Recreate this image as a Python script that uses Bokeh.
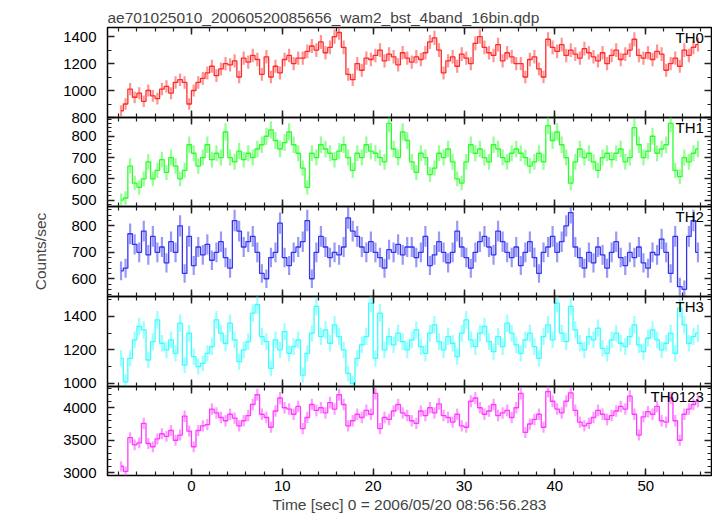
import numpy as np
from bokeh.plotting import figure
from bokeh.layouts import column
from bokeh.models import Range1d, SingleIntervalTicker, LinearAxis, Label
from bokeh.embed import file_html
from bokeh.resources import INLINE

TITLE = "ae701025010_20060520085656_wam2_bst_4band_16bin.qdp"
XLABEL = "Time [sec] 0 = 2006/05/20 08:56:56.283"
YLABEL = "Counts/sec"
BIN = 0.5          # seconds per bin
T_START = -7.75    # centre of first bin

th0 = [850, 900, 1010, 950, 980, 920, 1000, 960,
       940, 1010, 1030, 980, 1060, 1080, 1060, 900,
       1000, 1060, 1090, 1130, 1180, 1110, 1160, 1200,
       1190, 1220, 1100, 1240, 1210, 1260, 1230, 1120,
       1250, 1100, 1180, 1130, 1230, 1260, 1200, 1240,
       1240, 1290, 1330, 1300, 1360, 1280, 1320, 1400,
       1430, 1320, 1120, 1080, 1200, 1150, 1240, 1230,
       1260, 1300, 1220, 1270, 1250, 1190, 1280, 1240,
       1210, 1250, 1230, 1280, 1360, 1390, 1300, 1130,
       1220, 1250, 1180, 1270, 1240, 1200, 1350, 1400,
       1320, 1280, 1260, 1340, 1220, 1280, 1250, 1200,
       1200, 1100, 1230, 1250, 1160, 1100, 1380, 1320,
       1290, 1340, 1260, 1300, 1270, 1240, 1310, 1280,
       1250, 1220, 1280, 1200, 1260, 1300, 1230, 1270,
       1300, 1380, 1260, 1240, 1280, 1230, 1290, 1270,
       1150, 1200, 1240, 1180, 1300, 1260, 1320, 1340]

th1 = [500, 510, 660, 580, 560, 600, 680, 600,
       640, 690, 630, 700, 660, 600, 640, 760,
       720, 660, 700, 760, 690, 720, 700, 820,
       700, 680, 730, 690, 720, 700, 740, 760,
       800, 830, 780, 740, 770, 820, 760, 720,
       650, 560, 720, 700, 760, 740, 720, 690,
       730, 760, 700, 640, 720, 700, 760, 730,
       720, 700, 680, 860, 740, 700, 820, 780,
       680, 630, 720, 700, 620, 650, 720, 700,
       740, 680, 600, 580, 680, 760, 720, 740,
       700, 680, 760, 740, 700, 680, 720, 740,
       720, 700, 660, 680, 720, 680, 850, 780,
       820, 760, 700, 580, 680, 740, 700, 720,
       680, 640, 700, 720, 690, 720, 740, 680,
       700, 840, 760, 700, 730, 800, 720, 740,
       760, 860, 640, 610, 700, 680, 720, 740]

th2 = [630, 640, 770, 730, 700, 780, 690, 760,
       700, 720, 660, 740, 700, 800, 620, 760,
       650, 720, 690, 730, 670, 700, 740, 680,
       640, 820, 780, 720, 740, 760, 700, 620,
       600, 680, 700, 810, 680, 650, 700, 720,
       740, 820, 600, 700, 760, 720, 680, 700,
       690, 720, 830, 780, 760, 720, 700, 740,
       700, 680, 640, 710, 700, 730, 690, 720,
       720, 680, 700, 760, 650, 690, 740, 700,
       660, 700, 780, 720, 680, 640, 700, 740,
       760, 720, 690, 780, 740, 700, 680, 720,
       650, 700, 740, 680, 620, 700, 720, 760,
       700, 740, 800, 850, 720, 680, 640, 700,
       660, 720, 690, 640, 700, 740, 680, 650,
       700, 680, 720, 660, 640, 700, 690, 750,
       700, 620, 760, 570, 560, 760, 820, 700]

th3 = [1150, 1010, 1150, 1260, 1340, 1320, 1140, 1250,
       1380, 1240, 1200, 1260, 1180, 1360, 1110, 1300,
       1160, 1100, 1120, 1180, 1220, 1380, 1300, 1240,
       1360, 1260, 1130, 1200, 1250, 1420, 1470, 1280,
       1250, 1090, 1260, 1200, 1310, 1180, 1220, 1260,
       1050, 1180, 1300, 1460, 1280, 1320, 1240, 1350,
       1280, 1200, 1060, 1000, 1150, 1230, 1280, 1480,
       1150, 1420, 1200, 1280, 1230, 1300, 1250, 1200,
       1260, 1320, 1220, 1180, 1300, 1350, 1250, 1200,
       1280, 1240, 1160, 1300, 1380, 1260, 1220, 1300,
       1340, 1250, 1190, 1280, 1220, 1360, 1300, 1230,
       1180, 1260, 1300, 1220, 1150, 1280, 1350, 1260,
       1480, 1300, 1250, 1460, 1320, 1240, 1200, 1280,
       1260, 1330, 1210, 1180, 1260, 1300, 1240, 1220,
       1280, 1350, 1230, 1190, 1270, 1320, 1260, 1200,
       1240, 1300, 1180, 1450, 1350, 1240, 1280, 1300]

th0123 = [3100, 3020, 3540, 3430, 3460, 3760, 3450, 3400,
          3520, 3600, 3560, 3650, 3500, 3580, 3870, 3640,
          3400, 3650, 3720, 3740, 3980, 3920, 3850, 3800,
          3900, 3840, 3720, 3800, 3880, 4050, 4200, 3900,
          3850, 3700, 3950, 4150, 4000, 3980, 3900, 4020,
          3680, 3850, 4050, 3960, 4000, 3920, 4080, 3980,
          4200, 4050, 3720, 3800, 3900, 3850, 3960, 3900,
          4220, 3680, 3850, 3820, 3950, 4050, 3920, 3880,
          3800, 3760, 3950, 3880, 4000, 3920, 4060, 3880,
          3850, 3780, 3900, 3720, 3700, 4100, 4150, 4000,
          3900, 3950, 4050, 3880, 3920, 3960, 3850, 4000,
          4220, 3620, 3750, 3820, 3900, 3700, 4250, 4100,
          3980, 3920, 4100, 4230, 3960, 3780, 3720, 3760,
          3850, 3960, 3900, 3820, 3880, 3950, 4020, 3980,
          4180, 3900, 3580, 3860, 3940, 3900, 4020, 3800,
          3780, 4150, 3800, 3500, 3900, 3980, 4050, 4100]

names = ["TH0", "TH1", "TH2", "TH3", "TH0123"]
series = [th0, th1, th2, th3, th0123]
colors = ["#ff2a2a", "#2aff2a", "#3434f0", "#3affff", "#ff3aff"]
y_lo = [800, 470, 533, 982, 2958]
y_hi = [1467, 888, 873, 1519, 4327]
y_major = [200, 100, 100, 200, 500]
y_minor = [2, 5, 5, 2, 5]
frame_h = [90, 89, 90, 90, 89]

FONT = "Liberation Sans"
X_LO, X_HI = -9.24, 57.24
x_range = Range1d(X_LO, X_HI)
OV = 9      # transparent overlap band between stacked panels


def style_axis(ax, labels):
    ax.axis_line_color = None
    ax.major_tick_in = 7
    ax.major_tick_out = 0
    ax.minor_tick_in = 4
    ax.minor_tick_out = 0
    ax.major_tick_line_color = "#222222"
    ax.minor_tick_line_color = "#222222"
    ax.major_tick_line_width = 1.5
    ax.minor_tick_line_width = 1.2
    if labels:
        ax.major_label_text_font = FONT
        ax.major_label_text_font_size = "15px"
        ax.major_label_text_color = "black"
    else:
        ax.major_label_text_font_size = "0px"
        ax.major_label_text_color = None
        ax.major_label_standoff = 0


figs = []
n = len(series)
for i in range(n):
    top = 27 if i == 0 else OV
    bottom = 41 if i == n - 1 else OV
    kw = {} if i == 0 else {"margin": (-2 * OV, 0, 0, 0)}
    p = figure(width=712, height=frame_h[i] + top + bottom,
               x_range=x_range, y_range=Range1d(y_lo[i], y_hi[i]),
               output_backend="svg", toolbar_location=None,
               x_axis_location=None, y_axis_location=None,
               min_border_left=107, min_border_right=1,
               min_border_top=top, min_border_bottom=bottom, **kw)
    p.grid.visible = False
    p.outline_line_color = "black"
    p.outline_line_width = 1.5
    p.background_fill_color = None
    p.border_fill_color = None

    yt = SingleIntervalTicker(interval=y_major[i], num_minor_ticks=y_minor[i])
    left = LinearAxis(ticker=yt)
    style_axis(left, True)
    left.major_label_standoff = 11
    right = LinearAxis(ticker=yt)
    style_axis(right, False)
    xt = SingleIntervalTicker(interval=10, num_minor_ticks=5)
    above = LinearAxis(ticker=xt)
    style_axis(above, False)
    below = LinearAxis(ticker=xt)
    style_axis(below, i == n - 1)
    if i == n - 1:
        below.major_label_standoff = 5
        below.axis_label = XLABEL
        below.axis_label_text_font = FONT
        below.axis_label_text_font_size = "15.5px"
        below.axis_label_text_font_style = "normal"
        below.axis_label_standoff = 2
    if i == 2:
        left.axis_label = YLABEL
        left.axis_label_text_font = FONT
        left.axis_label_text_font_size = "15.5px"
        left.axis_label_text_font_style = "normal"
        left.axis_label_standoff = 19
    p.add_layout(left, "left")
    p.add_layout(right, "right")
    p.add_layout(above, "above")
    p.add_layout(below, "below")

    t = T_START + BIN * np.arange(len(series[i]))
    v = np.array(series[i], dtype=float)
    err = np.sqrt(v / BIN)
    p.segment(x0=t, y0=v - err, x1=t, y1=v + err, line_color=colors[i],
              line_alpha=0.5, line_width=2.2)
    p.step(t, v, mode="center", line_color=colors[i], line_width=1.3)

    span = y_hi[i] - y_lo[i]
    p.add_layout(Label(x=56.4, y=y_hi[i] - 10 * span / frame_h[i], text=names[i],
                       text_align="right", text_baseline="middle",
                       text_font=FONT, text_font_size="15px", text_color="black"))
    if i == 0:
        p.title.text = TITLE
        p.title.align = "left"
        p.title.text_font = FONT
        p.title.text_font_size = "15.5px"
        p.title.text_font_style = "normal"
        p.title.standoff = 4
        p.title.offset = 0
    figs.append(p)

layout = column(*figs, spacing=0)
open("out.html", "w").write(file_html(layout, INLINE))
